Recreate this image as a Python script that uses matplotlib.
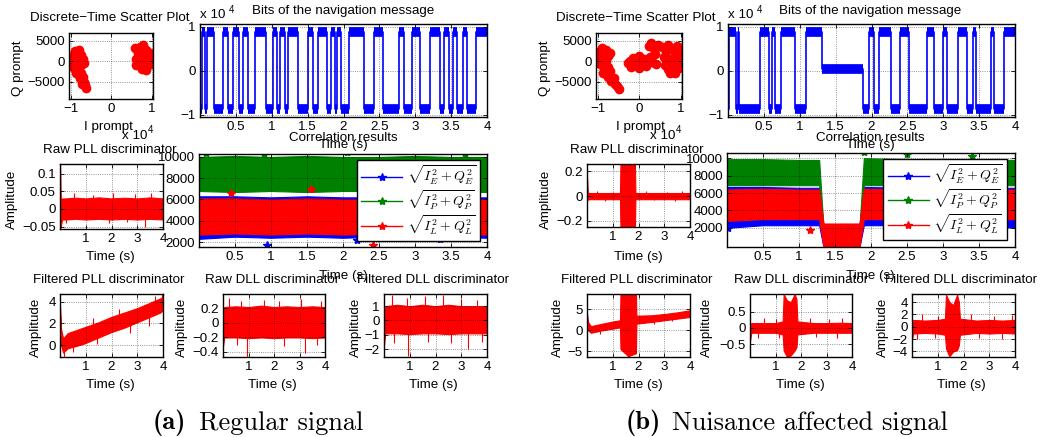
import numpy as np
import matplotlib.pyplot as plt
from matplotlib.lines import Line2D
from matplotlib.ticker import FuncFormatter

plt.rcParams['font.family'] = ['Liberation Sans', 'DejaVu Sans']
plt.rcParams['mathtext.fontset'] = 'cm'

W, H = 1042, 437
FS = 9.6

# ---------------- data ----------------
# scatter of prompt correlator (I in units of 1e4, Q raw)
sc_a_i = [-1.0, -0.95, -0.95, -0.9, -0.9, -0.9, -0.85, -0.85, -0.8, -0.8, -0.75, -0.75, -0.7, -0.68, -1.02, -0.97, -0.88, -0.82,
          -0.8, -0.77, -0.75, -0.72, -0.7, -0.68, -0.65, -0.62, -0.73,
          0.6, 0.62, 0.65, 0.7, 0.7, 0.75, 0.78, 0.8, 0.8, 0.85, 0.85, 0.9, 0.9, 0.95, 0.95, 1.0, 1.02, 0.75, 0.58]
sc_a_q = [0, 1500, -1500, 2500, 0, -2000, 1000, -1000, 2800, 0, 1500, -1000, 500, -500, -800, 800, -2800, -2500,
          -3500, -4200, -3000, -4800, -3800, -5200, -5800, -6500, -5500,
          500, -1000, 2000, 3500, 0, -2000, 4000, 1500, -500, 2800, -2200, 1000, -1000, 2000, 0, -800, 800, 1000, 3300]

sc_b_i = [-1.05, -1.0, -0.95, -0.95, -0.9, -0.9, -0.85, -0.85, -0.8, -0.8, -0.75, -0.75, -0.7, -0.72, -0.88, -0.8, -0.75,
          -0.7, -0.68, -0.62, -0.6, -0.55, -0.5,
          -0.28, -0.22, -0.2, -0.15, -0.1, -0.05, 0.0, 0.0, 0.05, 0.1, 0.15, 0.2, 0.25, 0.3, 0.22, 0.28, 0.35, 0.38, 0.4, 0.45,
          0.55, 0.6, 0.62, 0.65, 0.7, 0.7, 0.75, 0.8, 0.8, 0.85, 0.85, 0.9, 0.9, 0.95, 0.95, 1.0, 1.03, 0.75]
sc_b_q = [800, -500, 2500, 500, 3200, -1000, 1800, -2000, 2800, 0, 1200, -1500, -2500, 2000, -2800, -3200, -4000,
          -3500, -4800, -4200, -5500, -6000, -6800,
          -400, 0, -1500, 800, -800, 0, 1200, -1800, -500, 600, -1200, 200, 1000, -300, 3800, 4500, 3000, 1800, -600, 4000,
          3500, 1000, -1000, 2500, 4000, -2000, 500, 3000, -1500, 1500, -2800, 3800, 0, 2000, -1800, 600, -500, -2800]

# navigation bits: segment edges (s) and bit sign of each segment
bits_a_edges = [0, 0.03, 0.07, 0.10, 0.20, 0.32, 0.39, 0.46, 0.55, 0.60, 0.67, 0.76, 0.92, 1.02, 1.07, 1.11, 1.19, 1.22,
                1.37, 1.51, 1.58, 1.64, 1.77, 1.82, 1.88, 1.91, 1.97, 2.07, 2.28, 2.43, 2.55, 2.77, 2.85, 2.96, 3.06,
                3.20, 3.34, 3.40, 3.47, 3.52, 3.58, 3.66, 3.72, 3.84, 4.0]
bits_a_sign = [-1, 1, -1, 1, -1, 1, -1, 1, -1, 1, -1, 1, -1, 1, -1, 1, -1, 1, -1, 1, -1, 1,
               -1, 1, -1, 1, -1, 1, -1, 1, -1, 1, -1, 1, -1, 1, -1, 1, -1, 1, -1, 1, -1, 1]
bits_b_edges = [0, 0.02, 0.11, 0.14, 0.16, 0.44, 0.57, 0.61, 0.66, 0.74, 0.93, 1.09, 1.31, 1.88, 1.97, 2.03, 2.10,
                2.27, 2.40, 2.52, 2.77, 2.87, 2.99, 3.05, 3.20, 3.33, 3.41, 3.46, 3.66, 3.71, 3.85, 4.0]
bits_b_sign = [-1, 1, -1, 1, -1, 1, -1, 1, -1, 1, -1, 1, 0, -1, 1, -1, 1, -1, 1, -1, 1, -1, 1, -1, 1, -1, 1, -1, 1, -1, 1]
bit_level = {1: 0.87, -1: -0.86, 0: 0.04}   # x 1e4

# correlation magnitudes (envelopes of the noisy traces)
corr_a_t = [0, 0.5, 1, 1.5, 2, 2.5, 3, 3.5, 4]
corr_a_p_hi = [10000, 10100, 10000, 10100, 10000, 10000, 10100, 10000, 10000]
corr_a_p_lo = [6800, 6700, 6800, 6700, 6800, 6800, 6700, 6800, 6700]
corr_a_e_hi = [6300, 6300, 6200, 6300, 6200, 6200, 6300, 6200, 6200]
corr_a_e_lo = [2300, 2500, 2400, 2500, 2400, 2500, 2400, 2500, 2400]
corr_a_l_hi = [6100, 6100, 6000, 6100, 6000, 6000, 6100, 6000, 6000]
corr_a_l_lo = [2700, 2800, 2700, 2800, 2700, 2800, 2700, 2800, 2700]
corr_a_out_t = [0.95, 3.35, 2.2, 1.55, 2.42, 0.45, 0.1, 0.9, 2.05, 3.7]
corr_a_out_v = [1700, 2300, 2200, 7000, 1700, 6600, 10400, 10300, 10500, 10300]
corr_a_out_c = ['b', 'b', 'b', 'r', 'r', 'r', 'g', 'g', 'g', 'g']

corr_b_t = [0, 0.5, 1.0, 1.28, 1.34, 1.84, 1.90, 2.5, 3.0, 3.5, 4.0]
corr_b_p_hi = [9900, 9900, 9800, 9800, 2000, 2000, 10000, 9900, 9900, 9900, 9800]
corr_b_p_lo = [6900, 6900, 6900, 6900, 200, 200, 6900, 6900, 6900, 6900, 6900]
corr_b_e_hi = [6700, 6700, 6600, 6600, 2300, 2300, 6700, 6600, 6600, 6600, 6600]
corr_b_e_lo = [2000, 2300, 2300, 2300, -200, -200, 2300, 2300, 2300, 2300, 2000]
corr_b_l_hi = [6400, 6500, 6400, 6400, 2500, 2500, 6500, 6400, 6400, 6400, 6400]
corr_b_l_lo = [2800, 3000, 3000, 3000, -200, -200, 3000, 3000, 3000, 3000, 3000]
corr_b_out_t = [1.15, 1.9, 2.5, 3.4, 0.02]
corr_b_out_v = [1800, 10700, 10500, 10300, 2000]
corr_b_out_c = ['r', 'g', 'g', 'g', 'b']

# discriminator outputs: knot times, upper / lower envelope, isolated spikes
rpll_a_t = [0, 0.03, 0.08, 0.2, 0.6, 1.0, 1.5, 2.0, 2.5, 3.0, 3.5, 4.0]
rpll_a_hi = [0.125, 0.02, 0.03, 0.03, 0.032, 0.03, 0.033, 0.03, 0.032, 0.03, 0.033, 0.03]
rpll_a_lo = [-0.055, -0.05, -0.03, -0.03, -0.028, -0.03, -0.028, -0.03, -0.028, -0.03, -0.028, -0.03]
rpll_a_sp_t = [0.55, 1.3, 2.05, 2.9, 3.55, 0.25, 1.9, 2.6, 3.3]
rpll_a_sp_v = [0.045, 0.04, 0.045, 0.042, 0.045, -0.04, -0.04, -0.038, -0.05]

fpll_a_t = [0, 0.04, 0.12, 0.3, 0.9, 1.5, 2.0, 2.5, 3.0, 3.5, 3.9, 4.0]
fpll_a_hi = [3.6, 1.5, 0.6, 1.1, 1.6, 2.1, 2.6, 3.0, 3.4, 3.9, 4.3, 4.5]
fpll_a_lo = [3.0, 0.0, -0.7, -0.3, 0.1, 0.7, 1.2, 1.6, 2.1, 2.6, 3.0, 3.2]
fpll_a_sp_t = [0.14, 0.5, 1.45, 2.7, 3.45, 1.3, 2.3, 3.95, 3.7]
fpll_a_sp_v = [-1.1, -0.6, 0.1, 1.1, 1.8, 2.5, 3.3, 4.7, 4.5]

rdll_a_t = [0, 0.05, 0.5, 1, 1.5, 2, 2.5, 3, 3.5, 4]
rdll_a_hi = [-0.05, 0.22, 0.23, 0.22, 0.24, 0.22, 0.23, 0.22, 0.23, 0.22]
rdll_a_lo = [-0.32, -0.2, -0.2, -0.21, -0.2, -0.21, -0.2, -0.2, -0.21, -0.2]
rdll_a_sp_t = [0.25, 0.7, 1.6, 2.2, 3.05, 3.85, 0.95, 0.55, 2.4, 3.2, 3.7]
rdll_a_sp_v = [0.35, 0.3, 0.32, 0.3, 0.33, 0.3, -0.47, -0.3, -0.32, -0.42, -0.3]

fdll_a_t = [0, 0.05, 0.5, 1, 1.5, 2, 2.5, 3, 3.5, 4]
fdll_a_hi = [-0.5, 1.0, 1.1, 1.0, 1.1, 1.0, 1.1, 1.0, 1.0, 1.0]
fdll_a_lo = [-1.7, -0.9, -0.9, -0.95, -0.9, -0.9, -0.95, -0.9, -0.9, -0.9]
fdll_a_sp_t = [0.3, 0.9, 1.6, 2.3, 3.0, 3.6, 0.95, 0.4, 1.7, 2.6, 3.25, 3.8]
fdll_a_sp_v = [1.8, 1.6, 1.7, 1.8, 1.5, 1.4, -2.5, -1.6, -1.5, -1.6, -2.0, -1.5]

rpll_b_t = [0, 0.03, 0.08, 1.28, 1.3, 1.86, 1.88, 4.0]
rpll_b_hi = [0.15, 0.03, 0.025, 0.025, 0.27, 0.27, 0.025, 0.025]
rpll_b_lo = [0.0, -0.03, -0.025, -0.025, -0.26, -0.26, -0.025, -0.025]
rpll_b_sp_t = [0.4, 1.0, 2.3, 3.1, 3.7, 0.7, 2.6, 3.4]
rpll_b_sp_v = [0.04, 0.035, 0.04, 0.035, 0.04, -0.04, -0.035, -0.04]

fpll_b_t = [0, 0.04, 0.15, 0.6, 1.0, 1.28, 1.3, 1.6, 1.9, 1.92, 2.5, 3.0, 3.5, 4.0]
fpll_b_hi = [4.0, 2.0, 1.0, 1.6, 2.1, 2.4, 9.0, 9.0, 9.0, 3.5, 3.6, 3.9, 4.3, 4.8]
fpll_b_lo = [2.8, 0.0, -0.6, 0.0, 0.4, 0.7, -4.5, -6.2, -5.5, 1.6, 2.0, 2.4, 2.8, 3.2]
fpll_b_sp_t = [0.5, 2.6, 3.3]
fpll_b_sp_v = [-0.9, 1.5, 2.2]

rdll_b_t = [0, 0.05, 0.5, 1.0, 1.28, 1.32, 1.45, 1.6, 1.75, 1.82, 1.86, 2.5, 3.0, 3.5, 4.0]
rdll_b_hi = [-0.1, 0.15, 0.15, 0.15, 0.2, 1.05, 0.85, 0.8, 1.05, 0.9, 0.2, 0.15, 0.15, 0.16, 0.15]
rdll_b_lo = [-0.4, -0.15, -0.15, -0.15, -0.2, -0.7, -0.9, -0.85, -0.7, -0.6, -0.2, -0.15, -0.15, -0.15, -0.15]
rdll_b_sp_t = [0.55, 1.0, 2.35, 3.1, 3.6, 0.3, 1.15, 2.6, 3.4]
rdll_b_sp_v = [0.3, 0.28, 0.3, 0.28, 0.3, -0.3, -0.32, -0.28, -0.3]

fdll_b_t = [0, 0.05, 0.5, 1.0, 1.28, 1.32, 1.45, 1.6, 1.75, 1.82, 1.86, 2.5, 3.0, 3.5, 4.0]
fdll_b_hi = [-0.5, 1.1, 1.0, 1.1, 1.3, 5.2, 4.0, 3.5, 5.2, 4.0, 1.3, 1.0, 1.1, 1.0, 1.1]
fdll_b_lo = [-2.0, -1.1, -1.0, -1.1, -1.3, -3.5, -4.8, -4.0, -3.8, -3.0, -1.3, -1.0, -1.1, -1.0, -1.1]
fdll_b_sp_t = [0.4, 1.0, 2.3, 3.2, 3.9, 0.2, 0.9, 2.6, 3.5]
fdll_b_sp_v = [2.0, 1.8, 2.0, 1.8, 1.9, -2.0, -1.8, -1.8, -2.0]

BLUE, GREEN, RED = '#0000ff', '#008000', '#ff0000'
fig = plt.figure(figsize=(W / 100, H / 100), dpi=100)


def px_axes(l, t, r, b):
    return fig.add_axes([l / W, 1 - b / H, (r - l) / W, (b - t) / H])


def ftext(x, y, s, **kw):
    kw.setdefault('ha', 'center')
    kw.setdefault('va', 'center')
    kw.setdefault('fontsize', FS)
    fig.text(x / W, 1 - y / H, s, **kw)


fmt = FuncFormatter(lambda v, p: ('%g' % v).replace('-', '\u2212'))


def matlab(ax, xlim, ylim, xticks, yticks):
    ax.set_xlim(xlim)
    ax.set_ylim(ylim)
    ax.set_xticks(xticks)
    ax.set_yticks(yticks)
    ax.xaxis.set_major_formatter(fmt)
    ax.yaxis.set_major_formatter(fmt)
    ax.tick_params(direction='in', length=3, width=0.6, top=True, right=True, labelsize=FS, pad=3)
    ax.grid(True, ls=':', color='k', lw=0.6, alpha=0.55)
    ax.set_axisbelow(False)
    for s in ax.spines.values():
        s.set_linewidth(1.0)


def band(ax, t, lo, hi, color, sp_t=(), sp_v=()):
    ax.fill_between(t, lo, hi, color=color, lw=0.8)
    mid = (np.array(lo) + np.array(hi)) / 2
    if len(sp_t):
        ax.vlines(sp_t, np.interp(sp_t, t, mid), sp_v, color=color, lw=0.8)


def bits(ax, edges, signs):
    lv = [bit_level[s] for s in signs]
    xs = np.repeat(edges, 2)[1:-1]
    ys = np.repeat(lv, 2)
    ax.plot(xs, ys, color=BLUE, lw=1.2)
    ax.hlines(lv, edges[:-1], edges[1:], color=BLUE, lw=7, capstyle='butt')


def corr(ax, t, e, p, l, out, bbox):
    band(ax, t, e[0], e[1], BLUE)
    band(ax, t, p[0], p[1], GREEN)
    band(ax, t, l[0], l[1], RED)
    cmap = {'b': BLUE, 'g': GREEN, 'r': RED}
    for tt, vv, cc in zip(*out):
        ax.plot(tt, vv, marker='*', color=cmap[cc], ms=6, ls='none')
    handles = [Line2D([], [], color=c, marker='*', ms=6, lw=1) for c in (BLUE, GREEN, RED)]
    labels = [r'$\sqrt{I_E^2+Q_E^2}$', r'$\sqrt{I_P^2+Q_P^2}$', r'$\sqrt{I_L^2+Q_L^2}$']
    leg = ax.legend(handles, labels, loc='upper right', bbox_to_anchor=bbox, borderaxespad=0,
                    fontsize=10, fancybox=False, framealpha=1, edgecolor='k', handlelength=3.0,
                    labelspacing=0.1, borderpad=0.3, handletextpad=0.3)
    leg.get_frame().set_linewidth(1.0)


def panel(dx, sc_i, sc_q, b_edges, b_sign, corr_data, small, caption):
    # scatter
    l_sc = 69 if dx == 0 else 596
    r_sc = 153 if dx == 0 else 682
    ax = px_axes(l_sc, 33, r_sc, 99)
    ax.plot(sc_i, sc_q, 'o', color=RED, ms=7, mew=0)
    matlab(ax, (-1.05, 1.03), (-9250, 6850), [-1, 0, 1], [-5000, 0, 5000])

    # bits
    l_b = 200 if dx == 0 else 728
    ax = px_axes(l_b, 24, l_b + 287, 117)
    bits(ax, b_edges, b_sign)
    matlab(ax, (0, 4), (-1.05, 1.06), [0.5, 1, 1.5, 2, 2.5, 3, 3.5, 4], [-1, 0, 1])

    # correlation
    ax = px_axes(l_b - 1, 154 if dx == 0 else 153, l_b + 287, 247)
    corr(ax, *corr_data)
    matlab(ax, (0, 4), (1530, 10280) if dx == 0 else (-200, 10600), [0.5, 1, 1.5, 2, 2.5, 3, 3.5, 4],
           [2000, 4000, 6000, 8000, 10000])

    for (box, data, ylim, yticks) in small:
        ax = px_axes(*box)
        band(ax, *data[:3], RED, data[3], data[4])
        matlab(ax, (0, 4), ylim, [1, 2, 3, 4], yticks)

    tx = 0 if dx == 0 else 1
    # texts
    ftext((110, 636)[tx], 18, 'Discrete\u2212Time Scatter Plot')
    ftext((343, 870)[tx], 11, 'Bits of the navigation message')
    ftext(l_b, 15, 'x 10', ha='left')
    ftext(l_b + 29, 10, '4', ha='left', fontsize=7)
    ftext((108, 640)[tx], 127, 'I prompt')
    ftext((122, 650)[tx], 136, 'x 10', ha='left')
    ftext((148, 676)[tx], 130, '4', ha='left', fontsize=7)
    ftext((18, 545)[tx], 68, 'Q prompt', rotation=90)
    ftext((343, 870)[tx], 145, 'Time (s)')
    ftext((343, 870)[tx], 138, 'Correlation results')
    ftext((343, 870)[tx], 276, 'Time (s)')
    ftext((110, 637)[tx], 150, 'Raw PLL discriminator')
    ftext((110, 638)[tx], 257, 'Time (s)')
    ftext((12, 546)[tx], 199, 'Amplitude', rotation=90)
    titles = ['Filtered PLL discriminator', 'Raw DLL discriminator', 'Filtered DLL discriminator']
    tcx = [(109, 272, 433), (637, 801, 961)][tx]
    bcx = [(110, 272, 433), (638, 800, 961)][tx]
    acx = [(36, 182, 356), (558, 707, 883)][tx]
    for k in range(3):
        ftext(tcx[k], 280, titles[k])
        ftext(bcx[k], 385, 'Time (s)')
        ftext(acx[k], 327, 'Amplitude', rotation=90)
    x0 = (153, 626)[tx]
    ftext(x0, 423, caption[0], ha='left', fontsize=19, family='cmb10')
    ftext(x0 + 46, 423, caption[1], ha='left', fontsize=19, family='cmr10')


panel(0, sc_a_i, sc_a_q, bits_a_edges, bits_a_sign,
      (corr_a_t, (corr_a_e_lo, corr_a_e_hi), (corr_a_p_lo, corr_a_p_hi), (corr_a_l_lo, corr_a_l_hi),
       (corr_a_out_t, corr_a_out_v, corr_a_out_c), (0.976, 0.935)),
      [((60, 164, 163, 229), (rpll_a_t, rpll_a_lo, rpll_a_hi, rpll_a_sp_t, rpll_a_sp_v), (-0.057, 0.128), [-0.05, 0, 0.05, 0.1]),
       ((60, 294, 163, 357), (fpll_a_t, fpll_a_lo, fpll_a_hi, fpll_a_sp_t, fpll_a_sp_v), (-1.1, 4.7), [0, 2, 4]),
       ((223, 294, 325, 357), (rdll_a_t, rdll_a_lo, rdll_a_hi, rdll_a_sp_t, rdll_a_sp_v), (-0.47, 0.40), [-0.4, -0.2, 0, 0.2]),
       ((384, 294, 487, 357), (fdll_a_t, fdll_a_lo, fdll_a_hi, fdll_a_sp_t, fdll_a_sp_v), (-2.55, 1.85), [-2, -1, 0, 1])],
      ('(a)', 'Regular signal'))

panel(1, sc_b_i, sc_b_q, bits_b_edges, bits_b_sign,
      (corr_b_t, (corr_b_e_lo, corr_b_e_hi), (corr_b_p_lo, corr_b_p_hi), (corr_b_l_lo, corr_b_l_hi),
       (corr_b_out_t, corr_b_out_v, corr_b_out_c), (0.972, 0.936)),
      [((587, 164, 690, 227), (rpll_b_t, rpll_b_lo, rpll_b_hi, rpll_b_sp_t, rpll_b_sp_v), (-0.25, 0.26), [-0.2, 0, 0.2]),
       ((587, 294, 690, 357), (fpll_b_t, fpll_b_lo, fpll_b_hi, fpll_b_sp_t, fpll_b_sp_v), (-6.4, 8.7), [-5, 0, 5]),
       ((750, 294, 852, 357), (rdll_b_t, rdll_b_lo, rdll_b_hi, rdll_b_sp_t, rdll_b_sp_v), (-0.9, 1.05), [-0.5, 0, 0.5]),
       ((912, 294, 1015, 357), (fdll_b_t, fdll_b_lo, fdll_b_hi, fdll_b_sp_t, fdll_b_sp_v), (-4.9, 5.3), [-4, -2, 0, 2, 4])],
      ('(b)', 'Nuisance affected signal'))

fig.savefig('out.png', dpi=100)
